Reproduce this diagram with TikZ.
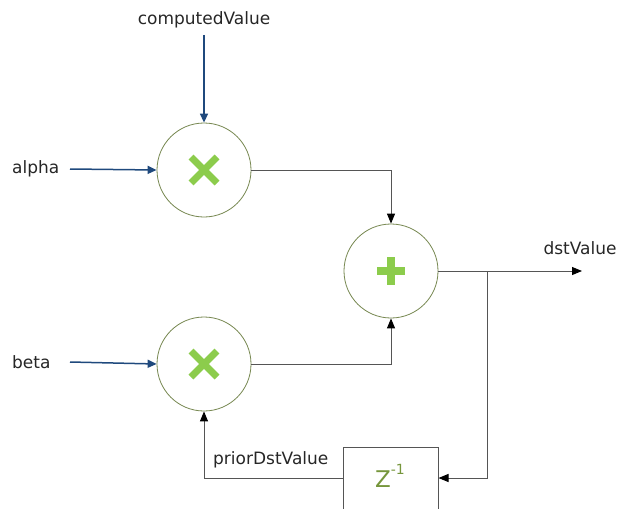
\documentclass[tikz,border=0pt]{standalone}
\usepackage{fontspec}
\setmainfont{DejaVu Sans}
\usetikzlibrary{arrows.meta}
\definecolor{bluearr}{RGB}{31,73,125}
\definecolor{olive}{RGB}{118,135,80}
\definecolor{lime}{RGB}{140,204,76}
\definecolor{zgreen}{RGB}{118,150,60}
\definecolor{gline}{RGB}{85,85,85}
\begin{document}
\begin{tikzpicture}[x=1pt,y=-1pt,
  op/.style={circle,draw=olive,line width=0.8pt,minimum size=94pt,inner sep=0pt},
  lbl/.style={font=\fontsize{17}{20}\selectfont,text=black!85,inner sep=0pt},
  bluel/.style={draw=bluearr,line width=1.5pt,-{Triangle[length=9pt,width=8pt]}},
  grayl/.style={draw=gline,line width=1pt,-{Triangle[length=10pt,width=8pt,color=black]}},
  sym/.style={lime,line width=7pt}]
\useasboundingbox (0,0) rectangle (617,508);
\begin{scope}
\clip (0,0) rectangle (617,508);
\node[op] (m1) at (204,170) {};
\node[op] (m2) at (204,364) {};
\node[op] (pl) at (391,271) {};
\node[draw=gline,line width=1pt,minimum width=95pt,minimum height=80pt,inner sep=0pt] (z) at (390.5,487) {};
\end{scope}
% symbols
\draw[sym] (191,157) -- (217,183) (191,183) -- (217,157);
\draw[sym] (191,351) -- (217,377) (191,377) -- (217,351);
\draw[lime,line width=8.5pt] (377,271) -- (405,271) (391,257) -- (391,285);
\node[text=zgreen,font=\fontsize{23}{26}\selectfont,inner sep=0pt] (zt) at (390,476) {Z\raisebox{0.55em}{\fontsize{14}{16}\selectfont -1}};
% labels
\node[lbl] (cv) at (204,20) {computedValue};
\node[lbl,anchor=west] (al) at (12,169) {alpha};
\node[lbl,anchor=west] (be) at (12,362) {beta};
\node[lbl] (dv) at (580,248) {dstValue};
\node[lbl,anchor=west] (pd) at (213,460) {priorDstValue};
\coordinate (cvs) at (204,35);
\coordinate (als) at (70,169);
\coordinate (bes) at (70,362);
\coordinate (outp) at (582,271);
\coordinate (br) at (487,271);
% blue inputs
\draw[bluel] (cvs) -- (m1.north);
\draw[bluel] (als) -- (m1.west);
\draw[bluel] (bes) -- (m2.west);
% connections
\draw[grayl] (m1.east) -| (pl.north);
\draw[grayl] (m2.east) -| (pl.south);
\draw[grayl] (pl.east) -- (outp);
\draw[grayl] (br) |- (z.east |- 0,478);
\draw[grayl] (z.west |- 0,478) -| (m2.south);
\end{tikzpicture}
\end{document}
